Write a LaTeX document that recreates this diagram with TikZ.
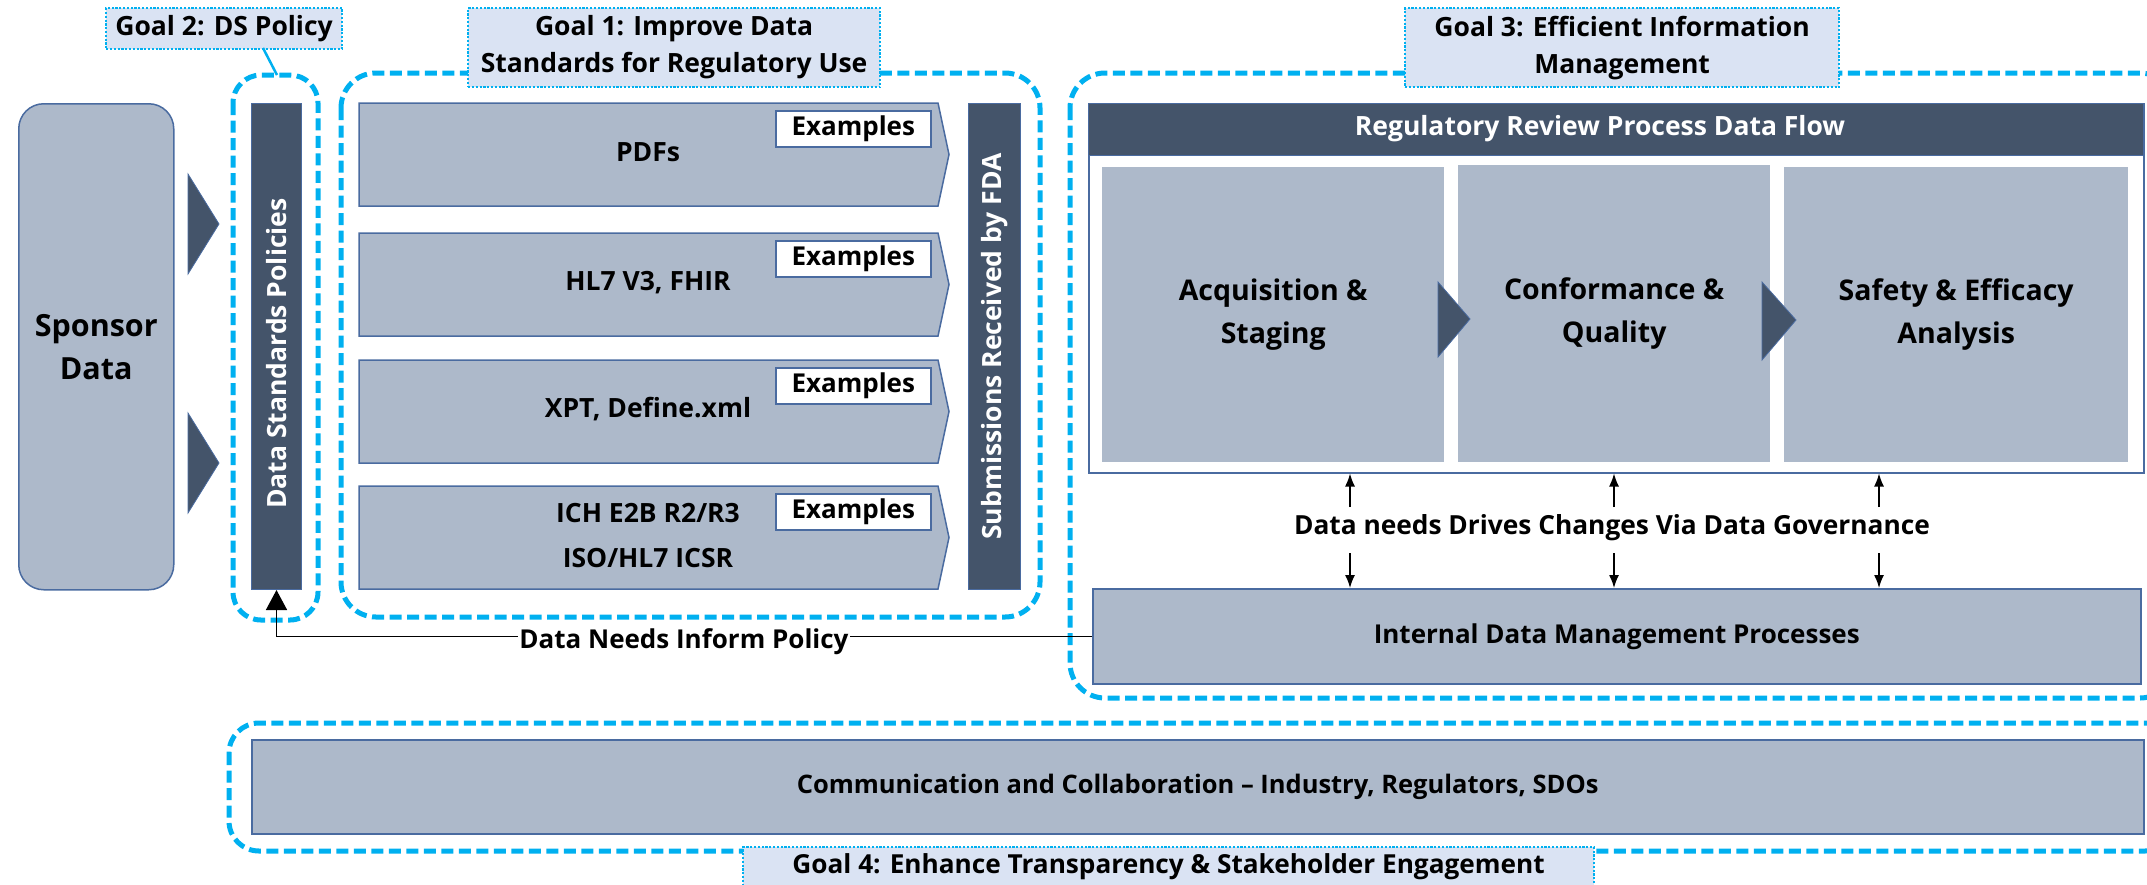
\documentclass[tikz,border=0pt]{standalone}
\usepackage{fontspec}
\setmainfont{Open Sans}
\usetikzlibrary{arrows.meta,calc}
\definecolor{lb}{HTML}{ADB9CA}
\definecolor{dk}{HTML}{44546A}
\definecolor{bd}{HTML}{4A6BA0}
\definecolor{cy}{HTML}{00B0F0}
\definecolor{lbl}{HTML}{DAE3F3}
\newcommand{\fs}[2]{\bfseries\fontsize{#1}{#2}\selectfont}
\tikzset{
  lightbox/.style={fill=lb, draw=bd, line width=1.5pt},
  darkbar/.style={fill=dk, draw=bd, line width=1pt},
  goaldash/.style={draw=cy, line width=5pt, dash pattern=on 12pt off 5.5pt, rounded corners=32pt},
  goallabel/.style={fill=lbl, draw=cy, line width=2.2pt, dash pattern=on 2.2pt off 1.6pt, inner sep=0pt, anchor=north west, align=center},
  boxnode/.style={anchor=north west, inner sep=0pt, align=center},
  exbox/.style={anchor=north west, inner sep=0pt, fill=white, draw=bd, line width=1.5pt, minimum width=155pt, minimum height=36pt, font=\fs{26}{30}},
  tri/.style={fill=dk, draw=bd, line width=0.8pt},
  thinarrow/.style={line width=1.5pt, -{Latex[length=13pt,width=10pt]}},
}
\begin{document}
\begin{tikzpicture}[x=1pt,y=-1pt]
\useasboundingbox (0,0) rectangle (2147,884);
\clip (0,0) rectangle (2147,884);

% ---------- Goal 2 ----------
\draw[goaldash, rounded corners=28pt] (233,75) rectangle (318,620);
\node[goallabel, minimum width=236pt, minimum height=41pt, font=\fs{26.5}{32}] (g2) at (105,7) {Goal 2: DS Policy};
\coordinate (g2a) at (263,48);
\coordinate (g2b) at (277,75);
\draw[cy, line width=2.5pt] (g2a) -- (g2b);

% Sponsor data
\node[boxnode, lightbox, rounded corners=25pt, minimum width=155pt, minimum height=486pt, font=\fs{30.5}{43}] (sponsor) at (18,103) {Sponsor\\Data};
\fill[tri] (188,174) -- (219,224) -- (188,274) -- cycle;
\fill[tri] (188,413) -- (219,463) -- (188,513) -- cycle;

% DS policies bar
\node[boxnode, darkbar, minimum width=50pt, minimum height=486pt] (dsp) at (251,103) {};
\node[rotate=90, text=white, font=\fs{26.5}{32}] at ([yshift=-7pt]dsp.center) {Data Standards Policies};

% ---------- Goal 1 ----------
\draw[goaldash, rounded corners=35pt] (341,73) rectangle (1040,617);
\node[goallabel, minimum width=412pt, minimum height=79pt, font=\fs{26.5}{37}] (g1) at (467,7) {Goal 1: Improve Data\\Standards for Regulatory Use};

\foreach \t/\n in {103/p1,233/p2,360/p3,486/p4}{
  \path[lightbox] (359,\t) -- (938,\t) -- (949,\t+51.5) -- (938,\t+103) -- (359,\t+103) -- cycle;
  \coordinate (\n) at (648,\t+51.5);
  \node[exbox] (\n ex) at (775,\t+7) {Examples};
}
\node[font=\fs{26.5}{40}] (t1) at ([yshift=2pt]p1) {PDFs};
\node[font=\fs{26.5}{40}] (t2) at ([yshift=2pt]p2) {HL7 V3, FHIR};
\node[font=\fs{26.5}{40}] (t3) at ([yshift=2pt]p3) {XPT, Define.xml};
\node[font=\fs{26.5}{45}, align=center] (t4) at ([yshift=2pt]p4) {ICH E2B R2/R3\\ISO/HL7 ICSR};

\node[boxnode, darkbar, minimum width=52pt, minimum height=486pt] (sub) at (968,103) {};
\node[rotate=90, text=white, font=\fs{26.5}{32}] at (sub.center) {Submissions Received by FDA};

% ---------- Goal 3 ----------
\draw[goaldash, rounded corners=35pt] (1070,73) rectangle (2175,698);
\node[goallabel, minimum width=434pt, minimum height=79pt, font=\fs{26.5}{37}] (g3) at (1404,7) {Goal 3: Efficient Information\\Management};

\node[boxnode, fill=white, draw=bd, line width=1.5pt, minimum width=1055pt, minimum height=369pt] (flow) at (1088,103) {};
\node[boxnode, fill=dk, draw=bd, line width=1pt, minimum width=1055pt, minimum height=52pt] (hdr) at (1088,103) {};
\node[text=white, font=\fs{26.5}{32}] (hdrt) at (1600,129) {Regulatory Review Process Data Flow};

\node[boxnode, fill=lb, minimum width=342pt, minimum height=295pt, font=\fs{28.5}{43}] (acq) at (1102,167) {Acquisition \&\\Staging};
\node[boxnode, fill=lb, minimum width=312pt, minimum height=297pt, font=\fs{28.5}{43}] (conf) at (1458,165) {Conformance \&\\Quality};
\node[boxnode, fill=lb, minimum width=344pt, minimum height=295pt, font=\fs{28.5}{43}] (safe) at (1784,167) {Safety \& Efficacy\\Analysis};
\fill[tri] (1438,282) -- (1470,319) -- (1438,357) -- cycle;
\fill[tri] (1762,282) -- (1796,320) -- (1762,360) -- cycle;

\node[boxnode, lightbox, minimum width=1048pt, minimum height=95pt, font=\fs{26}{32}] (idm) at (1092,588) {Internal Data Management Processes};

\node[font=\fs{26.3}{32}] (gov) at (1612,528) {Data needs Drives Changes Via Data Governance};
\foreach \x/\k in {1350/a,1614/b,1879/c}{
  \coordinate (u\k) at (\x,507);
  \coordinate (d\k) at (\x,553);
  \draw[thinarrow] (u\k) -- (u\k |- flow.south);
  \draw[thinarrow] (d\k) -- (d\k |- idm.north);
}

% Data needs inform policy
\draw[line width=1.5pt, -{Triangle[length=20pt,width=21pt]}] (idm.west) -| (dsp.south);
\node[fill=white, inner sep=1pt, font=\fs{26}{32}] (inform) at (684,642) {Data Needs Inform Policy};

% ---------- Goal 4 ----------
\draw[goaldash, rounded corners=30pt] (229,723) rectangle (2175,851);
\node[boxnode, lightbox, minimum width=1892pt, minimum height=94pt, font=\fs{25.5}{32}] (comm) at (251,739) {Communication and Collaboration – Industry, Regulators, SDOs};
\node[goallabel, minimum width=851pt, minimum height=40pt, font=\fs{26.2}{32}] (g4) at (742,846) {Goal 4: Enhance Transparency \& Stakeholder Engagement};
\end{tikzpicture}
\end{document}
